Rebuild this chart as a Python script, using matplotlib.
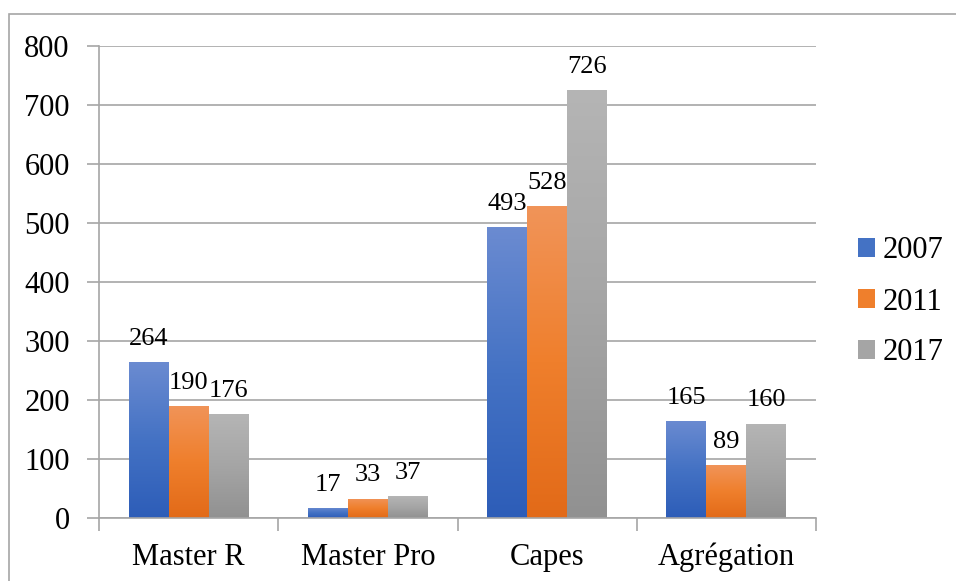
import numpy as np
import matplotlib
matplotlib.use("Agg")
import matplotlib.pyplot as plt
from matplotlib.colors import LinearSegmentedColormap
from matplotlib.patches import Rectangle

categories = ["Master R", "Master Pro", "Capes", "Agrégation"]
years = ["2007", "2011", "2017"]
values_2007 = [264, 17, 493, 165]
values_2011 = [190, 33, 528, 89]
values_2017 = [176, 37, 726, 160]
y_ticks = [0, 100, 200, 300, 400, 500, 600, 700, 800]

series = [values_2007, values_2011, values_2017]
# top, middle, bottom colours of each bar's vertical gradient
gradients = [
    ["#6b8bd1", "#4472c4", "#2d5db8"],
    ["#f19459", "#ef7f2c", "#e26a18"],
    ["#b5b5b5", "#a5a5a5", "#919191"],
]

plt.rcParams["font.family"] = ["Liberation Serif", "DejaVu Serif"]
FS_AXIS = 22
FS_LABEL = 19

fig = plt.figure(figsize=(9.56, 5.81), dpi=100)
ax = fig.add_axes([99 / 956, 1 - 518 / 581, (816 - 99) / 956, (518 - 46) / 581])

# frame around the whole chart area
fig.patches.append(Rectangle((9 / 956, -0.1), 1.2, 1 - 14 / 581 + 0.1,
                             transform=fig.transFigure, fill=False,
                             edgecolor="#a6a6a6", linewidth=1.2, zorder=0))

x = np.arange(len(categories))
width = 0.223
grad = np.linspace(0, 1, 256).reshape(-1, 1)

for i, (vals, cols) in enumerate(zip(series, gradients)):
    cmap = LinearSegmentedColormap.from_list(f"g{i}", [cols[2], cols[1], cols[0]])
    offs = (i - 1) * width
    bars = ax.bar(x + offs, vals, width, color="none", edgecolor="none",
                  label=years[i])
    for b, v in zip(bars, vals):
        x0 = b.get_x()
        im = ax.imshow(grad, cmap=cmap, aspect="auto", origin="lower",
                       extent=[x0, x0 + width, 0, v], zorder=2)
        im.set_clip_path(b)
        ax.text(x0 + width / 2, v + 29, str(v), ha="center", va="baseline",
                fontsize=FS_LABEL, color="#000000", zorder=3)

ax.set_xlim(-0.5, 3.5)
ax.set_ylim(0, 800)
ax.set_yticks(y_ticks)
ax.set_yticklabels([str(t) for t in y_ticks], fontsize=FS_AXIS)
ax.set_xticks(x)
ax.set_xticklabels(categories, fontsize=FS_AXIS)
ax.tick_params(axis="x", length=0, pad=18)
ax.tick_params(axis="y", length=9, color="#a6a6a6", width=1.2, pad=12)

# category separator ticks below the axis
ax.set_xticks(np.arange(-0.5, 4.0, 1.0), minor=True)
ax.tick_params(axis="x", which="minor", length=9, color="#a6a6a6", width=1.2)

ax.grid(axis="y", color="#a6a6a6", linewidth=1.2, zorder=0)
ax.set_axisbelow(True)
for s in ["top", "right"]:
    ax.spines[s].set_visible(False)
for s in ["left", "bottom"]:
    ax.spines[s].set_color("#a6a6a6")
    ax.spines[s].set_linewidth(1.2)

handles = [Rectangle((0, 0), 1, 1, facecolor=c[1], edgecolor="none") for c in gradients]
leg = fig.legend(handles, years, loc="center left",
                 bbox_to_anchor=(858 / 956, 1 - 302 / 581), frameon=False,
                 fontsize=FS_AXIS, handlelength=0.55, handleheight=0.55,
                 handletextpad=0.25, labelspacing=0.72,
                 borderpad=0, borderaxespad=0)

fig.savefig("out.png", dpi=100)
